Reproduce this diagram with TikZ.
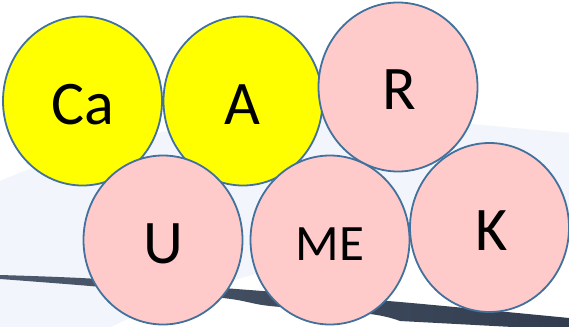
\documentclass[tikz,border=0pt]{standalone}
\usepackage{fontspec}
\setmainfont{Carlito}
\usetikzlibrary{shapes.geometric}
\definecolor{ringblue}{HTML}{41719C}
\definecolor{pinkfill}{HTML}{FFCACA}
\definecolor{yellowfill}{HTML}{FFFF00}
\definecolor{lightbg}{HTML}{F2F6FC}
\definecolor{bandA}{HTML}{4C586B}
\definecolor{bandB}{HTML}{323E50}
\tikzset{
  ball/.style={ellipse, draw=ringblue, line width=1.8pt, minimum width=159pt, minimum height=169pt, inner sep=0pt},
  yball/.style={ball, fill=yellowfill},
  pball/.style={ball, fill=pinkfill},
  lbl/.style={anchor=base, inner sep=0pt, font=\fontsize{62}{62}\selectfont},
  slbl/.style={anchor=base, inner sep=0pt, font=\fontsize{51}{51}\selectfont},
}
\begin{document}
\begin{tikzpicture}[x=1pt,y=-1pt]
\useasboundingbox (0,0) rectangle (569,326);
\fill[white] (0,0) rectangle (569,326);
% light wave background
\fill[lightbg] (0,181) .. controls (140,120) and (300,108) .. (440,121) -- (569,133)
  -- (569,212) .. controls (420,238) and (240,262) .. (105,330) -- (0,330) -- cycle;
% dark band
\shade[left color=bandA, right color=bandB]
  plot[smooth] coordinates {(0,275) (90,278.5) (223,288) (400,302) (569,318)}
  -- (569,330) --
  plot[smooth] coordinates {(400,321) (370,314) (270,306) (223,298) (90,286) (0,279)}
  -- cycle;
% balls
\node[yball] (ca) at (82.5,101) {};
\node[yball] (a) at (243,101) {};
\node[pball] (r) at (398,87) {};
\node[pball] (u) at (163,240) {};
\node[pball] (me) at (330,240) {};
\node[pball] (k) at (489.5,227.5) {};
% labels
\node[lbl] (tca) at (82.7,124) {Ca};
\node[lbl] (ta) at (242,124) {A};
\node[lbl] (tr) at (399,110) {R};
\node[lbl] (tu) at (163,263) {U};
\node[slbl] (tme) at (330,260.7) {ME};
\node[lbl] (tk) at (491.6,250) {K};
\end{tikzpicture}
\end{document}
